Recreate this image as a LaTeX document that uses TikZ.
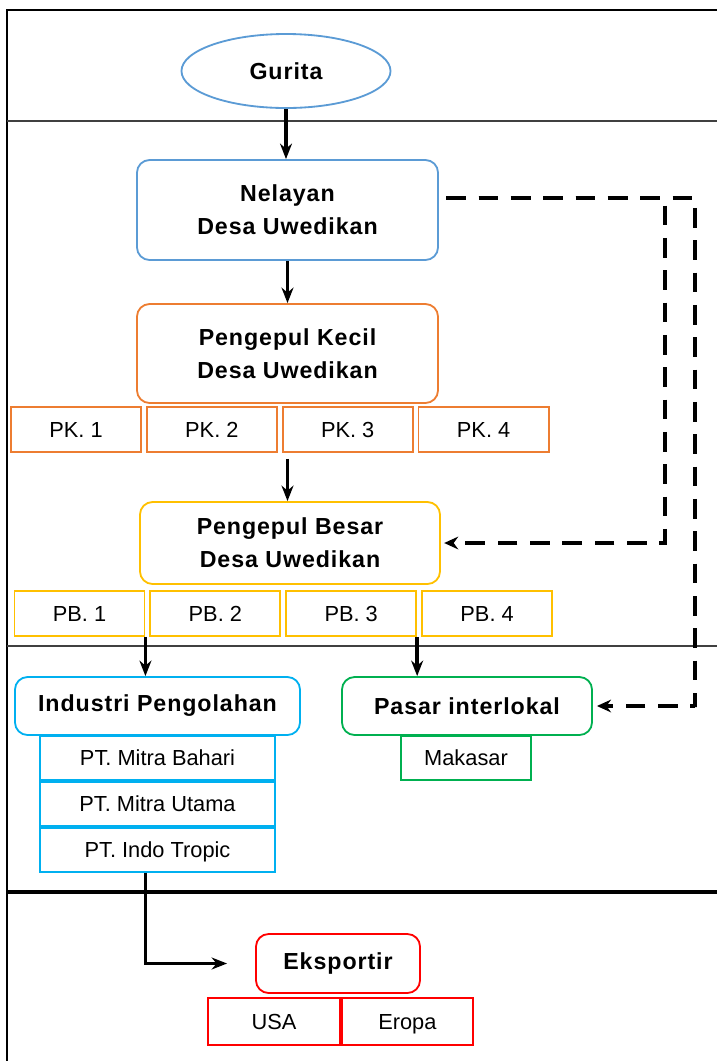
\documentclass[tikz,border=0pt]{standalone}
\usepackage{fontspec}
\setmainfont{Liberation Sans}
\usepackage{tikz}
\usetikzlibrary{arrows.meta, positioning, shapes.geometric}
\definecolor{gurblue}{RGB}{91,155,213}
\definecolor{pkorange}{RGB}{237,125,49}
\definecolor{pbgold}{RGB}{255,192,0}
\definecolor{indcyan}{RGB}{0,176,240}
\definecolor{pasgreen}{RGB}{0,176,80}
\definecolor{ekred}{RGB}{255,0,0}
\newcommand{\hdfont}{\fontsize{16.5}{23.5}\selectfont\bfseries\addfontfeatures{LetterSpace=4}}
\newcommand{\lblfont}{\fontsize{15.5}{17}\selectfont}

\begin{document}
\begin{tikzpicture}[
    x=0.025cm, y=-0.025cm,
    stage/.style={rectangle, rounded corners=9pt, draw=#1, line width=1.3pt,
                  minimum width=7.525cm, minimum height=2.5cm, align=center, font=\hdfont},
    subbox/.style={rectangle, draw=#1, line width=1.3pt, inner sep=0pt,
                   text height=12.5pt, text depth=1.5pt,
                   minimum width=3.25cm, minimum height=1.125cm, font=\lblfont},
    arr/.style={-{Stealth[length=11pt,width=8.5pt]}, line width=2.4pt},
    flow/.style={-{Stealth[length=10pt,width=9pt]}, line width=2.8pt, dash pattern=on 14pt off 9pt},
    lane/.style={line width=#1},
]
    \useasboundingbox (0,0) rectangle (717,1061);

    % frame and lanes
    \draw[line width=0.8pt] (717,10) -- (7,10) -- (7,1061);
    \draw[lane=1.4pt, black!75] (7,121) -- (717,121);
    \draw[lane=1.4pt, black!75] (7,646) -- (717,646);
    \draw[lane=2.2pt] (7,892) -- (717,892);

    % source
    \node[ellipse, draw=gurblue, line width=1.3pt, inner sep=0pt,
          minimum width=5.225cm, minimum height=1.85cm, font=\hdfont] (gurita) at (286,71) {Gurita};

    % fishermen and collectors
    \node[stage=gurblue] (nelayan) at (287.5,210) {Nelayan\\Desa Uwedikan};
    \node[stage=pkorange, minimum height=2.475cm] (pkecil) at (287.5,353.5) {Pengepul Kecil\\Desa Uwedikan};
    \node[subbox=pkorange] (pk1) at (76,429.5) {PK. 1};
    \node[subbox=pkorange, right=0.1cm of pk1] (pk2) {PK. 2};
    \node[subbox=pkorange, right=0.1cm of pk2] (pk3) {PK. 3};
    \node[subbox=pkorange, right=0.1cm of pk3] (pk4) {PK. 4};

    \node[stage=pbgold, minimum width=7.5cm, minimum height=2.05cm] (pbesar) at (290,543) {Pengepul Besar\\Desa Uwedikan};
    \node[subbox=pbgold] (pb1) at (79.5,613.5) {PB. 1};
    \node[subbox=pbgold, right=0.1cm of pb1] (pb2) {PB. 2};
    \node[subbox=pbgold, right=0.1cm of pb2] (pb3) {PB. 3};
    \node[subbox=pbgold, right=0.1cm of pb3] (pb4) {PB. 4};

    % processing and market
    \node[stage=indcyan, minimum width=7.125cm, minimum height=1.45cm] (industri) at (157.5,706) {Industri Pengolahan};
    \node[subbox=indcyan, minimum width=5.875cm, minimum height=1.1cm] (pt1) at (157.5,758) {PT. Mitra Bahari};
    \node[subbox=indcyan, minimum width=5.875cm, minimum height=1.1cm, below=0pt of pt1] (pt2) {PT. Mitra Utama};
    \node[subbox=indcyan, minimum width=5.875cm, minimum height=1.1cm, below=0pt of pt2] (pt3) {PT. Indo Tropic};

    \node[stage=pasgreen, minimum width=6.25cm, minimum height=1.45cm] (pasar) at (467,706) {Pasar interlokal};
    \node[subbox=pasgreen, minimum height=1.1cm] (makasar) at (466,758) {Makasar};

    % export
    \node[stage=ekred, minimum width=4.1cm, minimum height=1.475cm] (eksportir) at (338,963.5) {Eksportir};
    \node[subbox=ekred, minimum width=3.3cm, minimum height=1.175cm] (usa) at (274,1021.5) {USA};
    \node[subbox=ekred, minimum width=3.275cm, minimum height=1.175cm, right=0pt of usa] (eropa) {Eropa};

    \draw[arr] (gurita.south) -- (gurita.south |- nelayan.north);
    \draw[arr] (nelayan.south) -- (pkecil.north);
    \draw[arr] ([yshift=-0.15cm]pkecil.south |- pk2.south) -- (pkecil.south |- pbesar.north);
    \draw[arr] (pb1.south east) -- (pb1.south east |- industri.north);
    \draw[arr] (pb3.south east) -- (pb3.south east |- pasar.north);
    \draw[arr] ([xshift=-0.3cm]pt3.south) |- ([xshift=-0.7cm]eksportir.west);

    % direct sales (dashed)
    \coordinate (bendA) at (665,542);
    \coordinate (bendB) at (695,707);
    \draw[flow] ([shift={(0.18cm,0.3cm)}]nelayan.east) -| (bendA) |- ([xshift=0.08cm]pbesar.east);
    \draw[flow] ([shift={(0.18cm,0.3cm)}]nelayan.east) -| (bendB) |- ([xshift=0.1cm]pasar.east);
\end{tikzpicture}
\end{document}
